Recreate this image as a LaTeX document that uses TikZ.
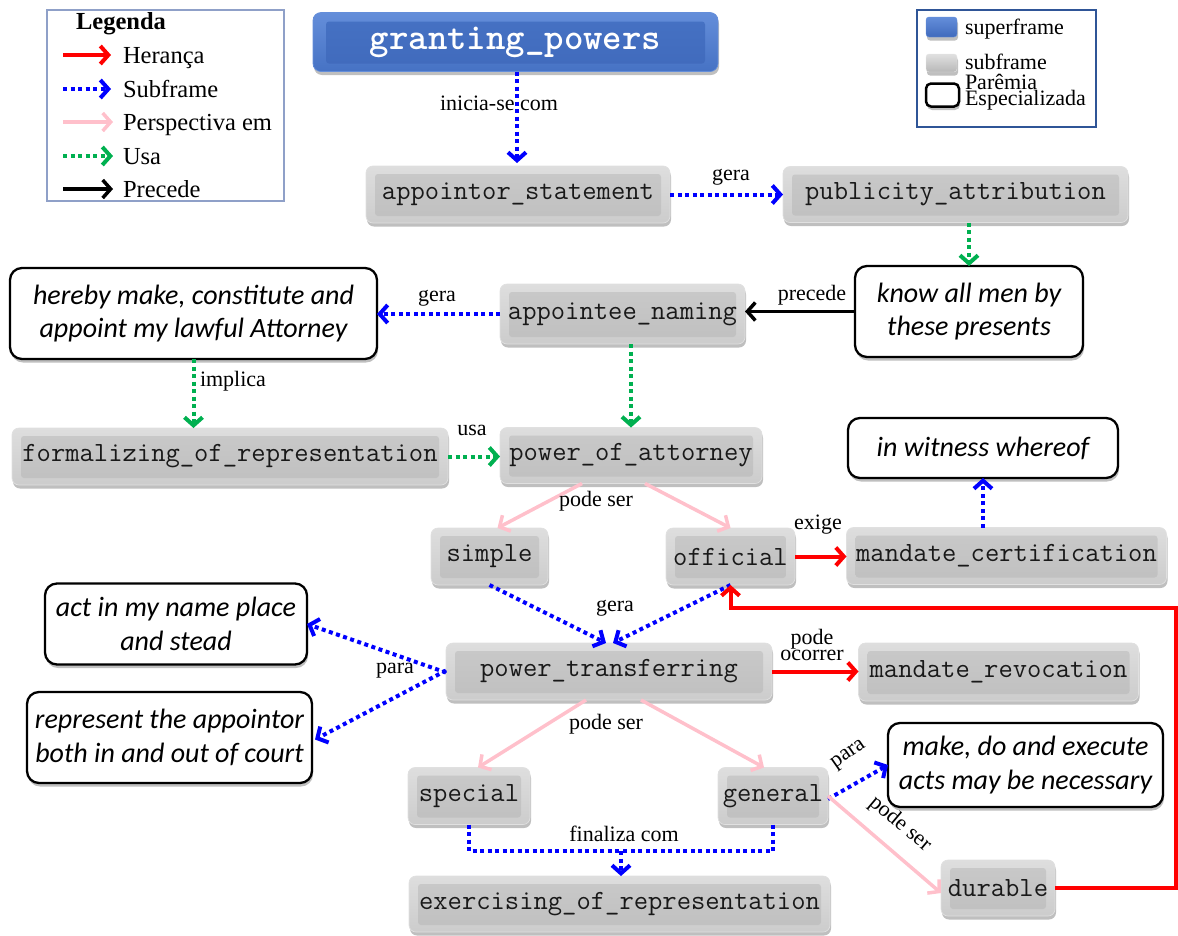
\documentclass[tikz,border=0pt]{standalone}
\usepackage{fontspec}
\setmainfont{Liberation Serif}
\newfontfamily\phrasefont{Carlito}
\usetikzlibrary{arrows.meta,shadows,calc}

\definecolor{subblue}{RGB}{0,0,255}
\definecolor{usegreen}{RGB}{0,176,80}
\definecolor{inhred}{RGB}{255,0,0}
\definecolor{perspink}{RGB}{255,192,203}
\definecolor{legframe}{RGB}{143,160,200}
\definecolor{legframeb}{RGB}{47,85,151}
\definecolor{bluelite}{RGB}{100,142,218}
\definecolor{bluemid}{RGB}{70,114,196}
\definecolor{bluedark}{RGB}{64,106,188}

\tikzset{
  softshadow/.style={drop shadow={shadow xshift=1pt, shadow yshift=-3.5pt, opacity=0.25, fill=black}},
  grayframe/.style={rectangle, rounded corners=7pt, line width=0.7pt, softshadow,
    draw=black!12, top color=black!13, bottom color=black!20, text=black!90,
    font=\ttfamily\fontsize{27.8}{29}\selectfont,
    path picture={\shade[top color=black!21, bottom color=black!25, rounded corners=3pt]
      ([shift={(9pt,-8pt)}]path picture bounding box.north west) rectangle
      ([shift={(-9pt,7pt)}]path picture bounding box.south east);}},
  blueframe/.style={rectangle, rounded corners=8pt, line width=0.7pt, softshadow,
    draw=bluelite, top color=bluelite, bottom color=bluemid, text=white,
    font=\ttfamily\bfseries\fontsize{37}{38}\selectfont,
    path picture={\shade[top color=bluemid, bottom color=bluedark, rounded corners=3pt]
      ([shift={(13pt,-9pt)}]path picture bounding box.north west) rectangle
      ([shift={(-13pt,8pt)}]path picture bounding box.south east);}},
  phrase/.style={rectangle, rounded corners=12pt, draw=black, line width=2.3pt,
    fill=white, softshadow, align=center,
    font=\phrasefont\itshape\fontsize{28}{33.5}\selectfont},
  lbl/.style={font=\fontsize{22}{24}\selectfont, text=black},
  legtxt/.style={font=\fontsize{24.5}{26}\selectfont, text=black, anchor=base west},
  legtxtb/.style={font=\fontsize{22}{24}\selectfont, text=black, anchor=base west},
  iconblue/.style={rectangle, rounded corners=3pt, draw=bluelite, top color=bluelite,
    bottom color=bluedark, softshadow, minimum width=31, minimum height=20},
  icongray/.style={rectangle, rounded corners=3pt, draw=black!10, top color=black!12,
    bottom color=black!28, softshadow, minimum width=31, minimum height=18},
  iconphrase/.style={rectangle, rounded corners=5pt, draw=black, line width=2.5pt,
    fill=white, softshadow, minimum width=33, minimum height=23},
  barb/.style={-{Straight Barb[length=8pt,width=18pt]}},
  subrel/.style={draw=subblue, line width=4pt, dash pattern=on 4pt off 3.5pt},
  sub/.style={subrel, barb},
  uses/.style={draw=usegreen, line width=4pt, dash pattern=on 4pt off 3.5pt, barb},
  inh/.style={draw=inhred, line width=4pt, barb},
  persp/.style={draw=perspink, line width=3.5pt, barb},
  prec/.style={draw=black, line width=3.5pt, barb},
}

\begin{document}
\begin{tikzpicture}[x=1pt, y=-1pt, every node/.style={inner sep=0pt, outer sep=0pt}]
\useasboundingbox (0,0) rectangle (1178,935);

% ---------- legend (relations) ----------
\node[draw=legframe, line width=1.5pt, minimum width=237, minimum height=191] (legbox) at (165.5,105.5) {};
\node[font=\bfseries\fontsize{24.5}{26}\selectfont, anchor=base] (leghead) at (121,29) {Legenda};
\node[legtxt] (lgh) at (123,63)  {Herança};
\node[legtxt] (lgs) at (123,97)  {Subframe};
\node[legtxt] (lgp) at (123,130) {Perspectiva em};
\node[legtxt] (lgu) at (123,164) {Usa};
\node[legtxt] (lgc) at (123,197) {Precede};
\draw[inh]   ([xshift=-60pt,yshift=8pt]lgh.base west) -- ([xshift=-12pt,yshift=8pt]lgh.base west);
\draw[sub]   ([xshift=-60pt,yshift=8pt]lgs.base west) -- ([xshift=-12pt,yshift=8pt]lgs.base west);
\draw[persp] ([xshift=-60pt,yshift=8pt]lgp.base west) -- ([xshift=-10pt,yshift=8pt]lgp.base west);
\draw[uses]  ([xshift=-60pt,yshift=8pt]lgu.base west) -- ([xshift=-10pt,yshift=8pt]lgu.base west);
\draw[prec]  ([xshift=-60pt,yshift=8pt]lgc.base west) -- ([xshift=-10pt,yshift=8pt]lgc.base west);

% ---------- legend (frame kinds) ----------
\node[draw=legframeb, line width=2pt, minimum width=179, minimum height=117] (kindbox) at (1006.5,68.5) {};
\node[iconblue]   (icsuper) at (941.5,27) {};
\node[icongray]   (icsub)   at (941.5,63) {};
\node[iconphrase] (icphr)   at (942.5,95) {};
\node[legtxtb] (ksuper) at (965,34)  {superframe};
\node[legtxtb] (ksub)   at (965,69)  {subframe};
\node[legtxtb] (kphra)  at (965,89)  {Parêmia};
\node[legtxtb] (kphrb)  at (965,105) {Especializada};

% ---------- frames ----------
\node[blueframe, minimum width=405, minimum height=59] (gp) at (515.5,42) {granting\_powers};
\node[grayframe, minimum width=304, minimum height=57] (as) at (518,194.5) {appointor\_statement};
\node[grayframe, minimum width=345, minimum height=56] (pa) at (955.5,194.5) {publicity\_attribution};
\node[phrase, minimum width=228, minimum height=91] (know) at (969,311.5) {know all men by\\these presents};
\node[grayframe, minimum width=245, minimum height=60] (an) at (622.5,314) {appointee\_naming};
\node[phrase, minimum width=367, minimum height=91] (hereby) at (193.5,313.5) {hereby make, constitute and\\appoint my lawful Attorney};
\node[grayframe, minimum width=436, minimum height=57] (form) at (230,456.5) {formalizing\_of\_representation};
\node[grayframe, minimum width=262, minimum height=56] (poa) at (631,455.5) {power\_of\_attorney};
\node[phrase, minimum width=270, minimum height=60] (witness) at (983,448) {in witness whereof};
\node[grayframe, minimum width=117, minimum height=57] (simple) at (489.5,556.5) {simple};
\node[grayframe, minimum width=129, minimum height=57] (official) at (730.5,556.5) {official};
\node[grayframe, minimum width=320, minimum height=57] (mc) at (1006.5,556) {mandate\_certification};
\node[phrase, minimum width=262, minimum height=81] (act) at (176,624) {act in my name place\\and stead};
\node[grayframe, minimum width=326, minimum height=57] (pt) at (609,671.5) {power\_transferring};
\node[grayframe, minimum width=280, minimum height=58] (mr) at (998.5,672) {mandate\_revocation};
\node[phrase, minimum width=285, minimum height=91] (repr) at (169.5,737.5) {represent the appointor\\both in and out of court};
\node[phrase, minimum width=275, minimum height=84] (make) at (1025.5,765) {make, do and execute\\acts may be necessary};
\node[grayframe, minimum width=122, minimum height=57] (special) at (469,796) {special};
\node[grayframe, minimum width=110, minimum height=57] (general) at (773,796) {general};
\node[grayframe, minimum width=114, minimum height=56] (durable) at (998,888) {durable};
\node[grayframe, minimum width=421, minimum height=56] (exer) at (619.5,904) {exercising\_of\_representation};

% ---------- relations ----------
\draw[sub] ([xshift=1.5pt]gp.south) -- ([xshift=-1pt,yshift=3pt]as.north);
\node[lbl] (l1) at (499,103) {inicia-se com};

\draw[sub] (as.east) -- (pa.west);
\node[lbl] (l2) at (731,177) {gera};

\draw[uses] (pa.south -| know.north) -- (know.north);

\draw[prec] (know.west) -- (know.west -| an.east);
\node[lbl] (l3) at (812,295) {precede};

\draw[sub] (an.west) -- (an.west -| hereby.east);
\node[lbl] (l4) at (437,298) {gera};

\draw[uses] (an.south -| poa.north) -- (poa.north);

\draw[uses] (hereby.south) -- (hereby.south |- form.north);
\node[lbl, anchor=west] (l5) at (200,381) {implica};

\draw[uses] (form.east) -- (form.east -| poa.west);
\node[lbl] (l6) at (472,430) {usa};

\draw[persp] ([xshift=-49pt]poa.south) -- ([xshift=8pt]simple.north);
\draw[persp] ([xshift=14pt]poa.south) -- (official.north);
\node[lbl] (l7) at (596,501) {pode ser};

\draw[inh] (official.east) -- (official.east -| mc.west);
\node[lbl] (l8) at (818,525) {exige};

\draw[sub] (witness.south |- mc.north) -- (witness.south);

\draw[sub] (simple.south) -- ([xshift=-3pt]pt.north);
\draw[sub] (official.south) -- ([xshift=4pt]pt.north);
\node[lbl] (l9) at (615,608) {gera};

\coordinate (loopcorner) at (1176,608);
\draw[inh, rounded corners=0pt] (durable.east) -| (loopcorner) -| (official.south);

\draw[sub] ([yshift=-1pt]pt.west) -- (act.east);
\draw[sub] ([yshift=1pt]pt.west) -- ([xshift=3pt,yshift=-2pt]repr.east);
\node[lbl] (l10) at (395,671) {para};

\draw[inh] (pt.east) -- (pt.east -| mr.west);
\node[lbl, align=center, font=\fontsize{22}{16}\selectfont] (l11) at (812,645) {pode\\ocorrer};

\draw[persp] ([xshift=-23pt]pt.south) -- ([xshift=9pt]special.north);
\draw[persp] ([xshift=32pt]pt.south) -- ([xshift=-9pt]general.north);
\node[lbl] (l12) at (606,724) {pode ser};

\draw[sub] ([yshift=-3pt]general.east) -- (make.west);
\node[lbl, rotate=35] (l13) at (849,755) {para};

\draw[persp] (general.east) -- ([yshift=-5pt]durable.west);
\node[lbl, rotate=-40] (l14) at (900,824) {pode ser};

\coordinate (joint) at (621,851);
\draw[subrel] (special.south) |- (joint);
\draw[subrel] (general.south) |- (joint);
\draw[sub] (joint) -- (joint |- exer.north);
\node[lbl] (l15) at (624,834) {finaliza com};
\end{tikzpicture}
\end{document}
